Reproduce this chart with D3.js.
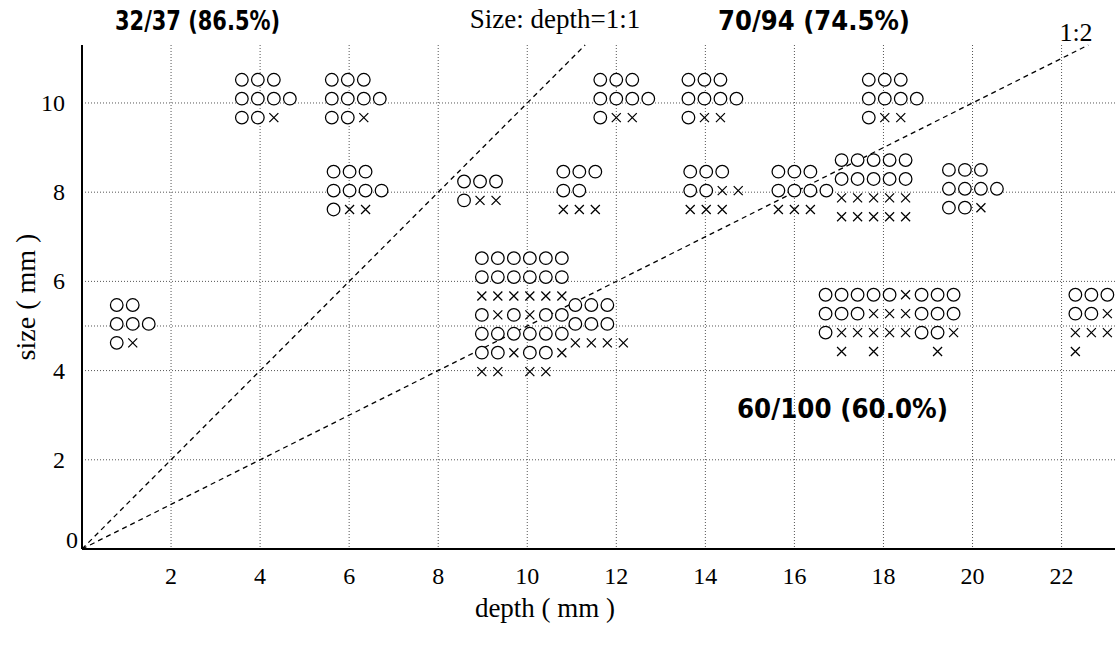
<!DOCTYPE html>
<html><head><meta charset="utf-8">
<script src="https://cdn.jsdelivr.net/npm/d3@7"></script>
<style>body{margin:0;background:#fff;} svg{display:block;}</style>
</head><body><svg id="c" width="1120" height="648"></svg>
<script>
// ---- data ----
const xTicks = [2, 4, 6, 8, 10, 12, 14, 16, 18, 20, 22];
const yTicks = [2, 4, 6, 8, 10];
const yGridLines = [2, 4, 5, 6, 8, 10];
// clusters: top-left marker position (depth, size) and rows of marks (o = circle, x = cross, _ = empty)
const clusterDepth = [0.78, 3.59, 5.61, 5.65, 8.58, 10.81, 11.64, 13.62, 13.66, 15.64, 17.06, 19.47, 17.67, 8.98, 11.08, 16.70, 22.31];
const clusterSize  = [5.47, 10.52, 10.52, 8.46, 8.24, 8.46, 10.52, 10.52, 8.46, 8.46, 8.72, 8.50, 10.52, 6.52, 5.47, 5.70, 5.70];
const clusterRows = [
  ["oo", "ooo", "ox"],
  ["ooo", "oooo", "oox"],
  ["ooo", "oooo", "oox"],
  ["ooo", "oooo", "oxx"],
  ["ooo", "oxx"],
  ["ooo", "oo", "xxx"],
  ["ooo", "oooo", "oxx"],
  ["ooo", "oooo", "oxx"],
  ["ooo", "ooxx", "xxx"],
  ["ooo", "oooo", "xxx"],
  ["ooooo", "ooooo", "xxxxx", "xxxxx"],
  ["ooo", "oooo", "oox"],
  ["ooo", "oooo", "oxx"],
  ["oooooo", "oooooo", "xxxxxx", "oxoxoo", "oooooo", "ooxoox", "xx_xx"],
  ["ooo", "ooo", "xxxx"],
  ["oooooxooo", "oooxxxooo", "oxxxxxoox", "_x_x___x"],
  ["ooo", "oox", "xxx", "x"]
];
const ratioSlopes = [1, 0.5];          // size = slope * depth
const ratioLabels = ["Size: depth=1:1", "1:2"];
const scoreLabels = ["32/37 (86.5%)", "70/94 (74.5%)", "60/100 (60.0%)"];
const xTitle = "depth ( mm )";
const yTitle = "size ( mm )";

// ---- layout ----
const pL = 82, pR = 1115, pT = 45, pB = 549;
const svg = d3.select("#c");
const x = d3.scaleLinear().domain([0, 23.2]).range([pL, pR]);
const y = d3.scaleLinear().domain([0, 11.3]).range([pB, pT]);
const serif = "'Liberation Serif', 'Times New Roman', serif";
const boldFont = "'Liberation Sans Narrow', 'Arial Narrow', 'DejaVu Sans Condensed', 'Liberation Sans', sans-serif";
const colStep = 16, rowStep = 18.9;

// grid
const grid = svg.append("g").attr("stroke", "#555").attr("stroke-width", 1).attr("stroke-dasharray", "1,2");
grid.selectAll("line.v").data(xTicks).join("line").attr("class", "v")
  .attr("x1", d => x(d)).attr("x2", d => x(d)).attr("y1", pT).attr("y2", pB);
grid.selectAll("line.h").data(yGridLines).join("line").attr("class", "h")
  .attr("y1", d => y(d)).attr("y2", d => y(d)).attr("x1", pL).attr("x2", pR);

// ratio lines
const yMax = y.domain()[1];
svg.append("g").selectAll("line").data(ratioSlopes).join("line")
  .attr("x1", x(0)).attr("y1", y(0))
  .attr("x2", d => x(Math.min(yMax / d, 22.6))).attr("y2", d => y(Math.min(yMax, 22.6 * d)))
  .attr("stroke", "#000").attr("stroke-width", 1.3).attr("stroke-dasharray", "5,4");

// markers
const marks = [];
clusterRows.forEach((rows, ci) => {
  rows.forEach((row, ri) => {
    [...row].forEach((ch, k) => {
      if (ch === "_") return;
      marks.push({t: ch, cx: x(clusterDepth[ci]) + k * colStep, cy: y(clusterSize[ci]) + ri * rowStep});
    });
  });
});
const mg = svg.append("g").attr("fill", "none").attr("stroke", "#000").attr("stroke-width", 1.25);
mg.selectAll("circle").data(marks.filter(d => d.t === "o")).join("circle")
  .attr("cx", d => d.cx).attr("cy", d => d.cy).attr("r", 6.3).attr("fill", "#fff");
mg.selectAll("path").data(marks.filter(d => d.t === "x")).join("path")
  .attr("d", d => `M${d.cx-4.5},${d.cy-4.5}L${d.cx+4.5},${d.cy+4.5}M${d.cx-4.5},${d.cy+4.5}L${d.cx+4.5},${d.cy-4.5}`);

// axes
const ax = svg.append("g").attr("stroke", "#000").attr("stroke-width", 2);
ax.append("line").attr("x1", pL).attr("x2", pR).attr("y1", pB).attr("y2", pB);
ax.append("line").attr("x1", pL).attr("x2", pL).attr("y1", pT).attr("y2", pB);

svg.append("g").selectAll("text").data(xTicks).join("text")
  .attr("x", d => x(d)).attr("y", pB + 35).attr("text-anchor", "middle")
  .attr("font-family", serif).attr("font-size", 24).text(d => d);
svg.append("g").selectAll("text").data(yTicks).join("text")
  .attr("x", pL - 17).attr("y", d => y(d) + 8).attr("text-anchor", "end")
  .attr("font-family", serif).attr("font-size", 24).text(d => d);
svg.append("text").attr("x", pL - 4).attr("y", pB - 1).attr("text-anchor", "end")
  .attr("font-family", serif).attr("font-size", 24).text("0");

// titles
svg.append("text").attr("x", 545).attr("y", 617).attr("text-anchor", "middle")
  .attr("font-family", serif).attr("font-size", 27).text(xTitle);
svg.append("text").attr("transform", "translate(35,297) rotate(-90)").attr("text-anchor", "middle")
  .attr("font-family", serif).attr("font-size", 28).text(yTitle);

// ratio labels
svg.append("text").attr("x", 555).attr("y", 28).attr("text-anchor", "middle")
  .attr("font-family", serif).attr("font-size", 27).text(ratioLabels[0]);
svg.append("text").attr("x", 1076).attr("y", 41).attr("text-anchor", "middle")
  .attr("font-family", serif).attr("font-size", 26).text(ratioLabels[1]);

// score labels
const scorePos = [[115, 30, 165], [718, 30, 192], [737, 418, 211]];
svg.append("g").selectAll("text").data(scoreLabels).join("text")
  .attr("x", (d, i) => scorePos[i][0]).attr("y", (d, i) => scorePos[i][1])
  .attr("textLength", (d, i) => scorePos[i][2]).attr("lengthAdjust", "spacingAndGlyphs")
  .attr("font-family", boldFont).attr("font-weight", "bold").attr("font-size", 27).text(d => d);
</script></body></html>
